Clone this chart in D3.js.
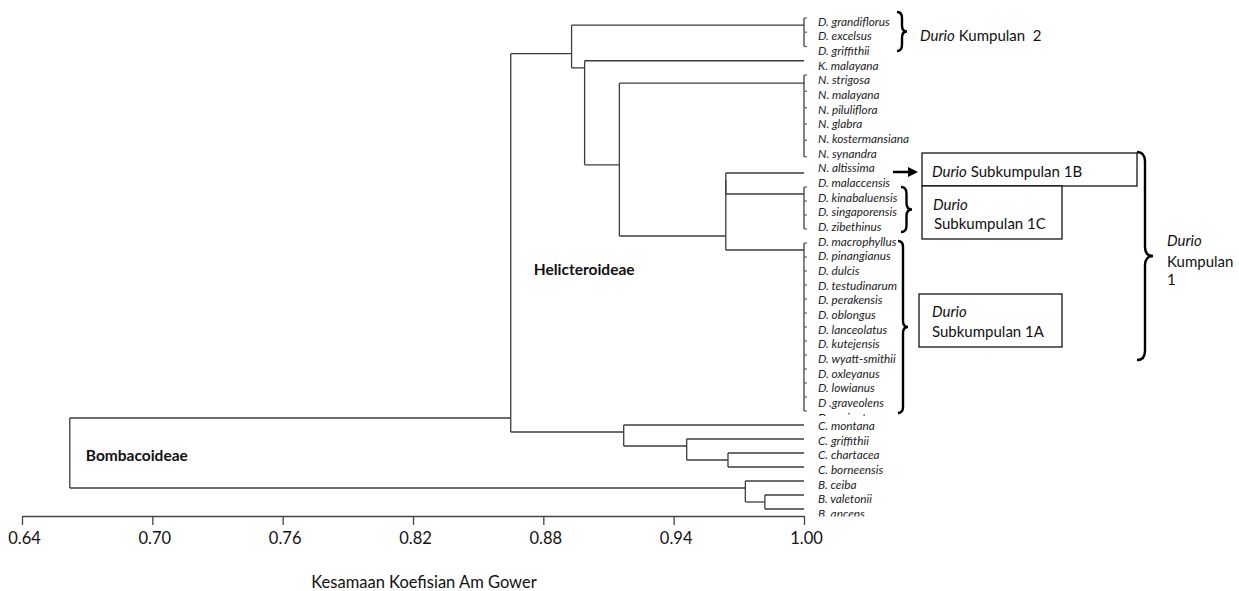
<!DOCTYPE html>
<html><head><meta charset="utf-8">
<script src="https://cdn.jsdelivr.net/npm/d3@7"></script>
<style>body{margin:0;background:#fff}svg{display:block}</style>
</head><body>
<svg id="c" width="1239" height="591"></svg>
<script>
// ---------- data ----------
const leaves = ["D. grandiflorus","D. excelsus","D. griffithii","K. malayana","N. strigosa","N. malayana",
  "N. piluliflora","N. glabra","N. kostermansiana","N. synandra","N. altissima","D. malaccensis",
  "D. kinabaluensis","D. singaporensis","D. zibethinus","D. macrophyllus","D. pinangianus","D. dulcis",
  "D. testudinarum","D. perakensis","D. oblongus","D. lanceolatus","D. kutejensis","D. wyatt-smithii",
  "D. oxleyanus","D. lowianus","D .graveolens","D. carinatus","C. montana","C. griffithii",
  "C. chartacea","C. borneensis","B. ceiba","B. valetonii","B. anceps"];
const kumpulan2 = [1.00, 0, 1, 2];
const neesiaGroup = [1.00, 4, 5, 6, 7, 8, 9];
const sub1C = [1.00, 11, 12, 13, 14];
const sub1A = [1.00, 15, 16, 17, 18, 19, 20, 21, 22, 23, 24, 25, 26, 27];
const coelostegia = [0.917, 28, [0.946, 29, [0.965, 30, 31]]];
const bombax = [0.973, 32, [0.982, 33, 34]];
const durioNeesia = [0.893, kumpulan2, [0.899, 3, [0.915, neesiaGroup, [0.964, [0.964, 10, sub1C], sub1A]]]];
const tree = [0.662, [0.865, durioNeesia, coelostegia], bombax];
const tickValues = [0.64, 0.70, 0.76, 0.82, 0.88, 0.94, 1.00];
const axisTitle = "Kesamaan Koefisian Am Gower";
const hiddenRows = {27: 416, 34: 516.5};

// ---------- scales ----------
const svg = d3.select("#c");
svg.append("rect").attr("width",1239).attr("height",591).attr("fill","#fff");
const x = d3.scaleLinear().domain([0.64, 1.00]).range([22, 804]);
const yTree = d3.scaleLinear().domain([0, 4, 10, 34]).range([18, 75, 173, 509]);
const yLabel = d3.scaleLinear().domain([0, 26, 27, 28, 34]).range([21.7, 403, 418, 426, 514]);

// ---------- dendrogram layout ----------
const segs = [];
function lay(node) {
  if (typeof node === "number") return {anchor: node, sim: 1.0, maxRow: node, leaf: true};
  const sim = node[0];
  const kids = node.slice(1).map(lay);
  const as = kids.map(k => k.anchor);
  segs.push({x1: x(sim), x2: x(sim), y1: yTree(d3.min(as)), y2: yTree(d3.max(as))});
  kids.forEach(k => {
    if (k.sim !== sim) segs.push({x1: x(sim), x2: x(k.sim), y1: yTree(k.anchor), y2: yTree(k.anchor)});
    if (sim === 1.0 && k.leaf) segs.push({x1: x(1.0), x2: x(1.0) + 3, y1: yTree(k.anchor), y2: yTree(k.anchor), stub: true});
  });
  return {anchor: kids[0].maxRow + 0.5, sim, maxRow: d3.max(kids, k => k.maxRow), leaf: false};
}
lay(tree);

svg.append("g").selectAll("line").data(segs).join("line")
  .attr("x1", d => d.x1).attr("x2", d => d.x2).attr("y1", d => d.y1).attr("y2", d => d.y2)
  .attr("stroke", d => d.stub ? "#666" : "#3d3d3d").attr("stroke-width", 1.3);

// ---------- leaf labels ----------
const defs = svg.append("defs");
Object.entries(hiddenRows).forEach(([r, ymax]) => {
  defs.append("clipPath").attr("id", "clip" + r).append("rect")
    .attr("x", 800).attr("y", ymax - 20).attr("width", 150).attr("height", 20);
});
svg.append("g").selectAll("text").data(leaves).join("text")
  .attr("x", 818).attr("y", (d, i) => yLabel(i) + 4)
  .attr("clip-path", (d, i) => hiddenRows[i] ? `url(#clip${i})` : null)
  .style("font-family", "Lato, 'Open Sans', sans-serif").style("font-style", "italic")
  .style("font-size", "11.8px").attr("fill", "#222").text(d => d);

// ---------- axis ----------
const axis = svg.append("g").attr("transform", "translate(0,516)")
  .call(d3.axisBottom(x).tickValues(tickValues).tickFormat(d3.format(".2f"))
    .tickSize(9).tickSizeOuter(0).tickPadding(7));
axis.select(".domain").attr("stroke", "#444").attr("stroke-width", 1.3);
axis.selectAll(".tick line").attr("stroke", "#444").attr("stroke-width", 1.3);
axis.selectAll(".tick text").attr("dx", 2).style("font-family", "Lato, sans-serif")
  .style("font-size", "16.5px").attr("fill", "#111");
svg.append("text").attr("x", 424).attr("y", 588).attr("text-anchor", "middle")
  .style("font-family", "Lato, sans-serif").style("font-size", "16.5px").attr("fill", "#111").text(axisTitle);

// ---------- subfamily labels ----------
const bold = s => s.style("font-family", "Lato, sans-serif").style("font-weight", "bold").style("font-size", "15.5px").attr("fill", "#111");
svg.append("text").attr("x", x(tree[0]) + 16).attr("y", 461).call(bold).text("Bombacoideae");
svg.append("text").attr("x", x(0.865) + 23).attr("y", 275).call(bold).text("Helicteroideae");

// ---------- annotations ----------
const ann = svg.append("g").style("font-family", "Lato, sans-serif").style("font-size", "15px").attr("fill", "#111");
function brace(bx, y1, y2, w) {
  const h = w / 2, ym = (y1 + y2) / 2, r = Math.min(w * 0.6, (y2 - y1) / 4);
  return `M${bx},${y1} Q${bx+h},${y1} ${bx+h},${y1+r} L${bx+h},${ym-r} Q${bx+h},${ym} ${bx+w},${ym}` +
         ` Q${bx+h},${ym} ${bx+h},${ym+r} L${bx+h},${y2-r} Q${bx+h},${y2} ${bx},${y2}`;
}
const braces = [[897, 12, 51, 10], [901, 187, 232, 11], [898, 241, 413, 10], [1137, 152, 360, 16]];
ann.selectAll("path.brace").data(braces).join("path").attr("class", "brace")
  .attr("d", d => brace(...d)).attr("fill", "none").attr("stroke", "#000").attr("stroke-width", 2.4);

// boxes
const boxes = [[922, 153, 215, 33], [922, 186, 140, 53], [919, 294, 143, 53]];
ann.selectAll("rect.box").data(boxes).join("rect").attr("class", "box")
  .attr("x", d => d[0]).attr("y", d => d[1]).attr("width", d => d[2]).attr("height", d => d[3])
  .attr("fill", "#fff").attr("stroke", "#000").attr("stroke-width", 1.2);

// arrow
ann.append("line").attr("x1", 893).attr("x2", 910).attr("y1", 172).attr("y2", 172).attr("stroke", "#000").attr("stroke-width", 2.5);
ann.append("path").attr("d", "M918,172 L908,167 L908,177 Z").attr("fill", "#000");

function twoPart(xp, yp, italic, rest) {
  const t = ann.append("text").attr("x", xp).attr("y", yp).style("white-space", "pre");
  if (italic) t.append("tspan").style("font-style", "italic").text(italic);
  if (rest) t.append("tspan").text(rest);
}
twoPart(920, 41, "Durio", " Kumpulan\u00a0 2");
twoPart(932, 177, "Durio", " Subkumpulan 1B");
twoPart(933, 210, "Durio", null);
twoPart(934, 229, null, "Subkumpulan 1C");
twoPart(932, 317, "Durio", null);
twoPart(932, 337, null, "Subkumpulan 1A");
twoPart(1167, 246, "Durio", null);
twoPart(1167, 267, null, "Kumpulan");
twoPart(1167, 285, null, "1");
</script>
</body></html>
